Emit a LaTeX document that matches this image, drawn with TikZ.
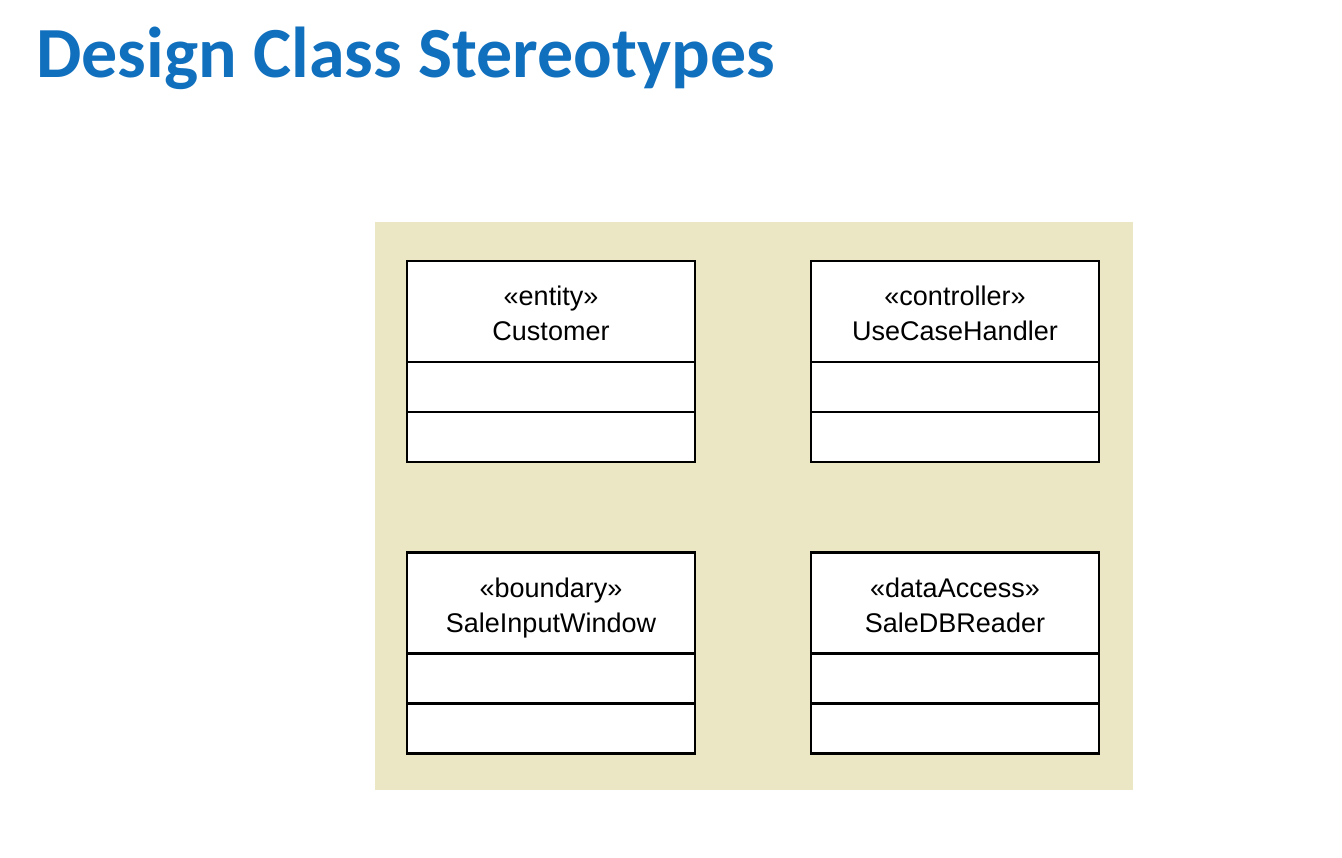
\documentclass[tikz,border=0pt]{standalone}
\usepackage{fontspec}
\setmainfont{Liberation Sans}
\newfontfamily\titlefont{Carlito}
\usepackage{tikz}
\usetikzlibrary{positioning}

\definecolor{titleblue}{RGB}{17,112,190}
\definecolor{panelbeige}{RGB}{235,230,196}

% struts that keep both header lines at the same height in every box
\newcommand\topstrut{\rule{0pt}{31pt}}
\newcommand\botstrut{\rule[-7pt]{0pt}{7pt}}

\tikzset{
  classhead/.style={draw=black, fill=white, line width=2.6pt, minimum width=288pt,
    minimum height=101pt, inner sep=0pt, outer sep=0pt, align=center,
    font=\fontsize{27}{35}\selectfont},
  classpart/.style={draw=black, fill=white, line width=2.6pt, minimum width=288pt,
    minimum height=50pt, inner sep=0pt, outer sep=0pt}
}

\begin{document}
\begin{tikzpicture}[x=1pt,y=-1pt]
        \useasboundingbox (0,0) rectangle (1342,858);

        % title
        \node[anchor=base west, text=titleblue, inner sep=0pt,
              font=\titlefont\bfseries\fontsize{72}{72}\selectfont] (title) at (36,78)
              {Design Class Stereotypes};

        % panel
        \fill[panelbeige] (375,222) rectangle (1133,790);

        % top row
        \node[classhead] (customer) at (551,311.5) {\topstrut«entity»\\Customer\botstrut};
        \node[classpart, below=0pt of customer] (customerattr) {};
        \node[classpart, below=0pt of customerattr] (customerops) {};

        \node[classhead] (handler) at (955,311.5) {\topstrut«controller»\\UseCaseHandler\botstrut};
        \node[classpart, below=0pt of handler] (handlerattr) {};
        \node[classpart, below=0pt of handlerattr] (handlerops) {};

        % bottom row
        \node[classhead] (window) at (551,603) {\topstrut«boundary»\\SaleInputWindow\botstrut};
        \node[classpart, below=0pt of window] (windowattr) {};
        \node[classpart, below=0pt of windowattr] (windowops) {};

        \node[classhead] (reader) at (955,603) {\topstrut«dataAccess»\\SaleDBReader\botstrut};
        \node[classpart, below=0pt of reader] (readerattr) {};
        \node[classpart, below=0pt of readerattr] (readerops) {};
\end{tikzpicture}
\end{document}
